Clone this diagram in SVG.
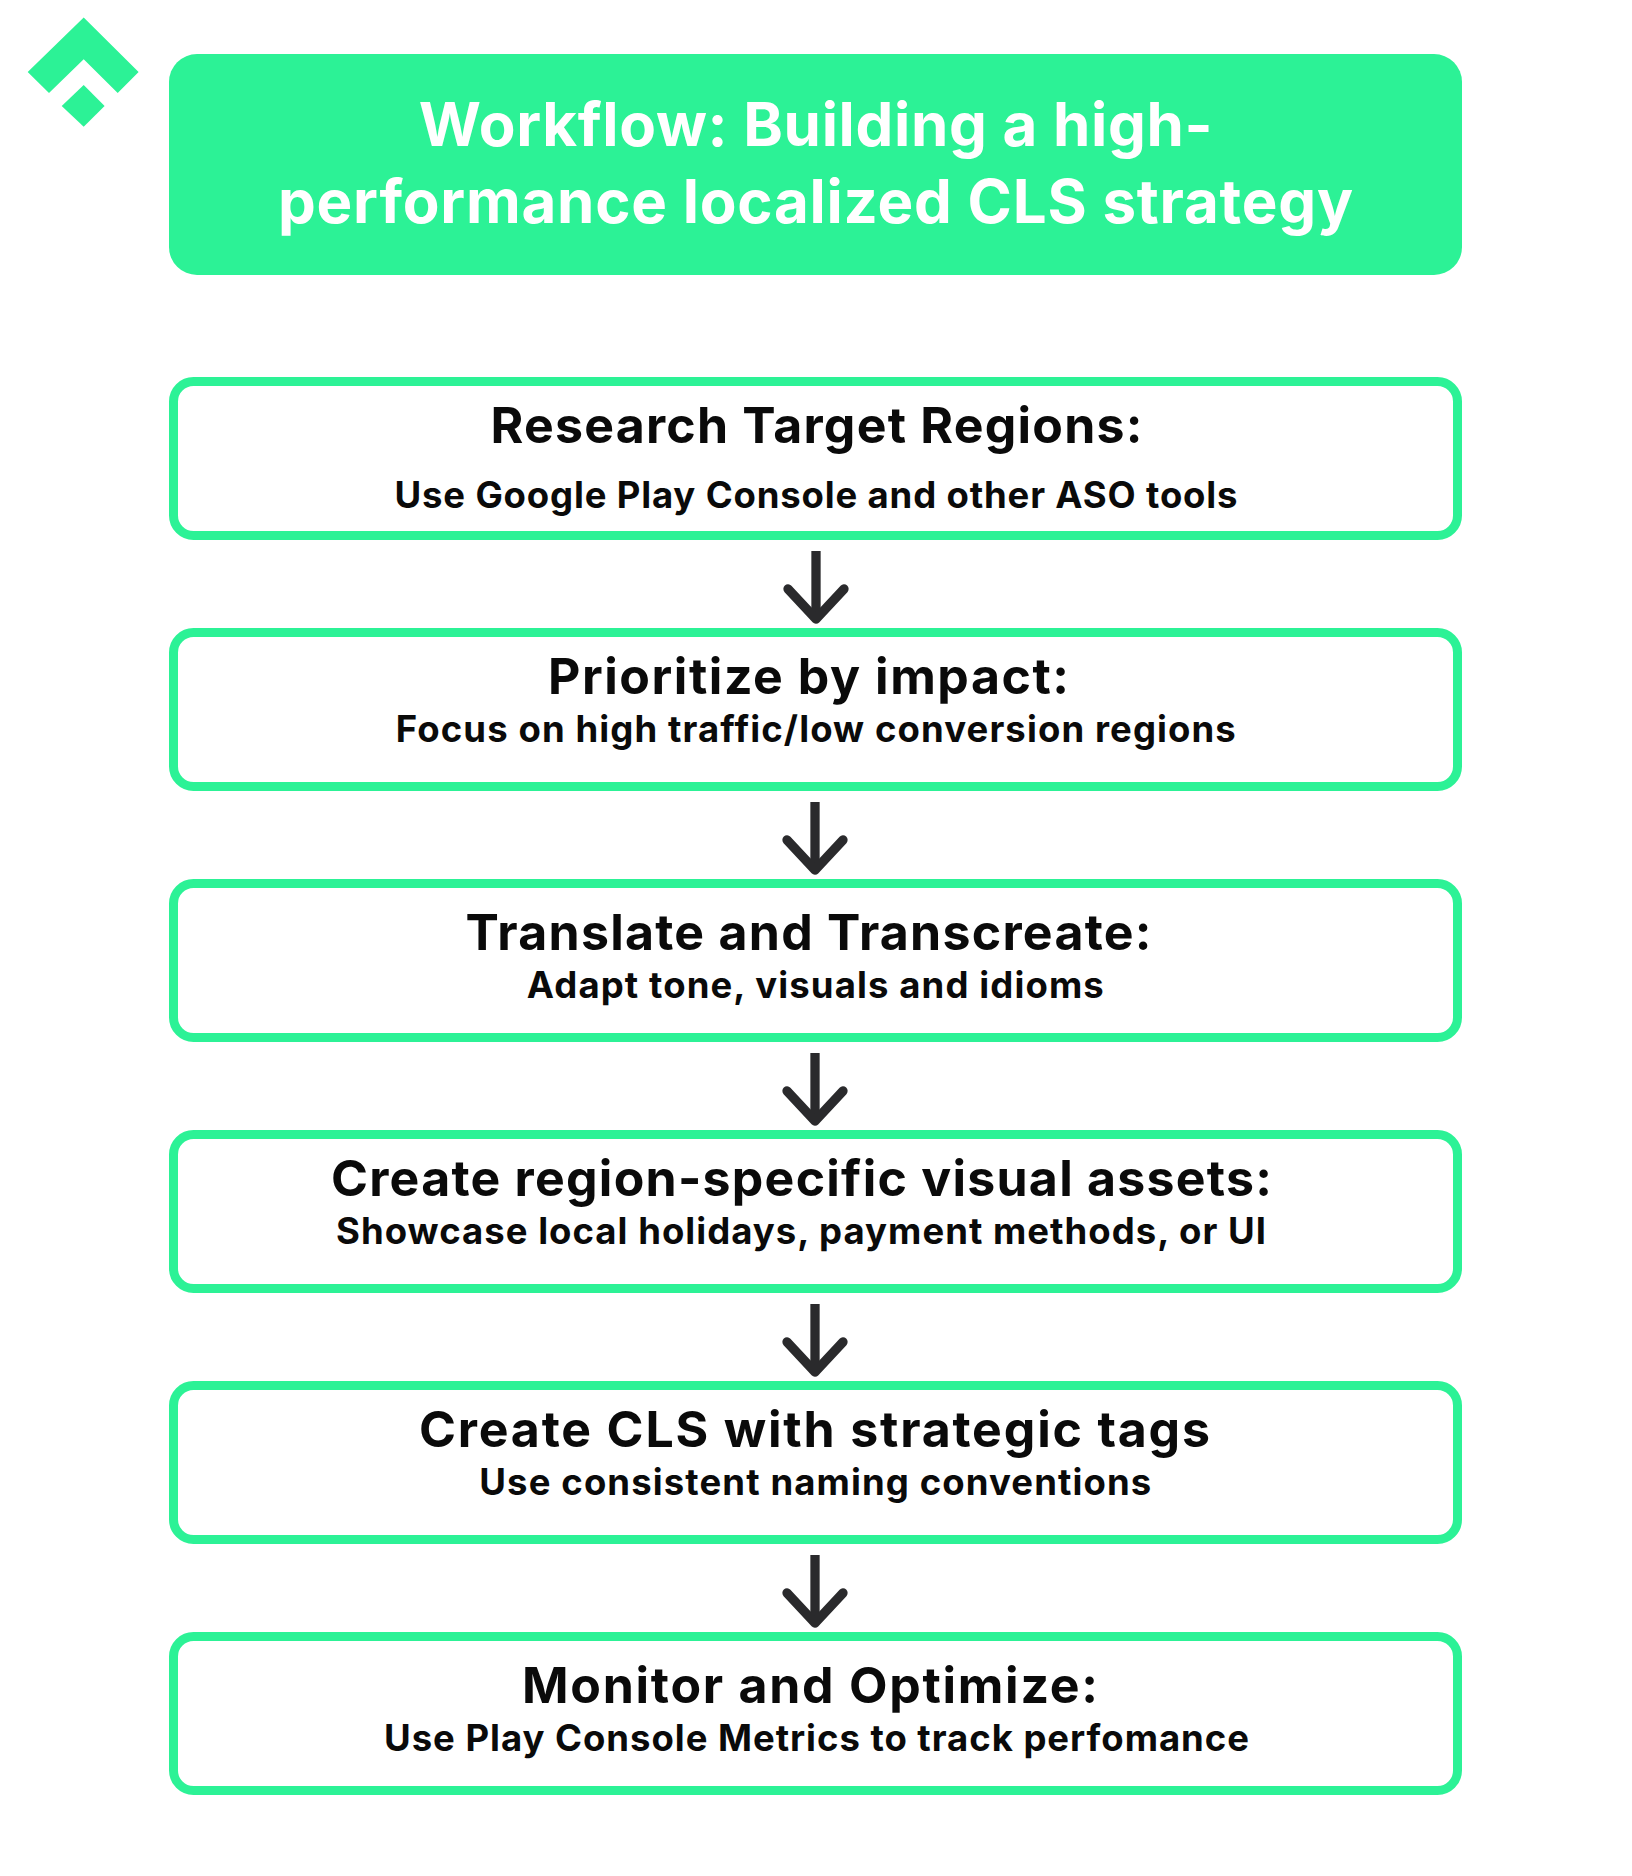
<svg xmlns="http://www.w3.org/2000/svg" width="1632" height="1876" viewBox="0 0 1632 1876">
<style>
text{font-family:"Inter","Liberation Sans",sans-serif;text-anchor:start}
.h{font-size:60px;font-weight:700;fill:#fff}
.t{font-size:50px;font-weight:700;fill:#0a0a0a}
.s{font-size:36.5px;font-weight:700;fill:#0a0a0a}
.b{fill:#fff;stroke:#2cf296;stroke-width:9}
.a{fill:none;stroke:#2a2a2c;stroke-width:9.3;stroke-linejoin:round}
.c{stroke-linecap:round}
</style>
<rect width="1632" height="1876" fill="#fff"/>
<g id="logo" fill="#2cf296">
<polygon points="83.7,17.5 138.6,72 117.7,93 83.7,59.3 49,93 27.7,72"/>
<polygon points="83.7,85 104.6,106 83.7,126.7 61.7,106"/>
</g>
<g id="header"><rect x="169" y="54" width="1293" height="221" rx="28" fill="#2cf296"/>
<text class="h" x="418.7" y="145.7" textLength="794">Workflow: Building a high-</text>
<text class="h" x="278" y="222.7" textLength="1075">performance localized CLS strategy</text></g>
<g id="connectors">
<path class="a" d="M816 551V618"/><path class="a c" d="M788 589L816 619L844 589"/>
<path class="a" d="M815 802V869"/><path class="a c" d="M787 840L815 870L843 840"/>
<path class="a" d="M815 1053V1120"/><path class="a c" d="M787 1091L815 1121L843 1091"/>
<path class="a" d="M815 1304V1371"/><path class="a c" d="M787 1342L815 1372L843 1342"/>
<path class="a" d="M815 1555V1622"/><path class="a c" d="M787 1593L815 1623L843 1593"/>
</g>
<g id="step1"><rect class="b" x="173.5" y="381.5" width="1284" height="154" rx="20"/>
<text class="t" x="490.5" y="442.7" textLength="652">Research Target Regions:</text>
<text class="s" x="394.5" y="508.4" textLength="843">Use Google Play Console and other ASO tools</text></g>
<g id="step2"><rect class="b" x="173.5" y="632.5" width="1284" height="154" rx="20"/>
<text class="t" x="548" y="694" textLength="521">Prioritize by impact:</text>
<text class="s" x="395.8" y="741.7" textLength="840">Focus on high traffic/low conversion regions</text></g>
<g id="step3"><rect class="b" x="173.5" y="883.5" width="1284" height="154" rx="20"/>
<text class="t" x="465.5" y="950" textLength="686">Translate and Transcreate:</text>
<text class="s" x="526.8" y="997.6" textLength="577">Adapt tone, visuals and idioms</text></g>
<g id="step4"><rect class="b" x="173.5" y="1134.5" width="1284" height="154" rx="20"/>
<text class="t" x="331" y="1196" textLength="941">Create region-specific visual assets:</text>
<text class="s" x="336" y="1243.7" textLength="930">Showcase local holidays, payment methods, or UI</text></g>
<g id="step5"><rect class="b" x="173.5" y="1385.5" width="1284" height="154" rx="20"/>
<text class="t" x="419" y="1447" textLength="791">Create CLS with strategic tags</text>
<text class="s" x="479.3" y="1494.7" textLength="672">Use consistent naming conventions</text></g>
<g id="step6"><rect class="b" x="173.5" y="1636.5" width="1284" height="154" rx="20"/>
<text class="t" x="522" y="1703" textLength="576">Monitor and Optimize:</text>
<text class="s" x="384" y="1750.7" textLength="865">Use Play Console Metrics to track perfomance</text></g>
</svg>
